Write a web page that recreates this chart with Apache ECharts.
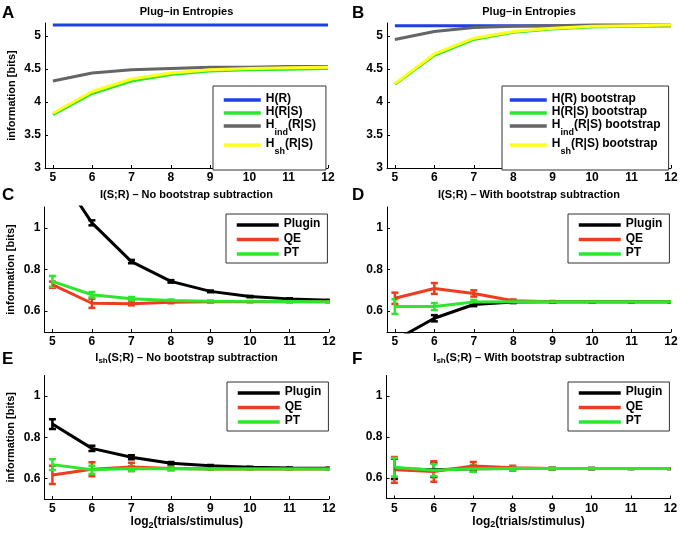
<!DOCTYPE html>
<html><head><meta charset="utf-8">
<script src="https://cdn.jsdelivr.net/npm/echarts@6/dist/echarts.min.js"></script>
<style>html,body{margin:0;padding:0;background:#fff}#c{width:685px;height:536px}</style>
</head><body><div id="c"></div><script>
const FONT = 'Liberation Sans, Arial, Helvetica, sans-serif';

// ---------- data ----------
const xVals = [5, 6, 7, 8, 9, 10, 11, 12];
const xTicks = [5, 6, 7, 8, 9, 10, 11, 12];
const yTicksEntropy = [3, 3.5, 4, 4.5, 5];
const yTicksInfo = [0.6, 0.8, 1];

// Panel A: plug-in entropies
const aHR   = [5.17, 5.17, 5.17, 5.17, 5.17, 5.17, 5.17, 5.17];
const aHRS  = [3.81, 4.13, 4.32, 4.42, 4.47, 4.49, 4.50, 4.51];
const aHind = [4.32, 4.44, 4.49, 4.51, 4.53, 4.53, 4.54, 4.54];
const aHsh  = [3.83, 4.16, 4.35, 4.44, 4.49, 4.51, 4.52, 4.53];

// Panel B: bootstrap entropies
const bHR   = [5.16, 5.16, 5.16, 5.16, 5.16, 5.16, 5.16, 5.16];
const bHRS  = [4.27, 4.71, 4.95, 5.06, 5.11, 5.14, 5.15, 5.16];
const bHind = [4.95, 5.07, 5.13, 5.15, 5.16, 5.17, 5.17, 5.17];
const bHsh  = [4.28, 4.73, 4.97, 5.07, 5.12, 5.15, 5.16, 5.17];

// Panel C: I(S;R) no bootstrap subtraction
const cPlugin    = [1.31, 1.024, 0.838, 0.743, 0.695, 0.670, 0.659, 0.652];
const cPluginErr = [0.02, 0.012, 0.008, 0.006, 0.004, 0.003, 0.003, 0.002];
const cQE        = [0.727, 0.638, 0.636, 0.643, 0.645, 0.645, 0.645, 0.645];
const cQEErr     = [0.015, 0.022, 0.008, 0.005, 0.003, 0.002, 0.002, 0.002];
const cPT        = [0.743, 0.679, 0.660, 0.651, 0.648, 0.647, 0.646, 0.645];
const cPTErr     = [0.026, 0.013, 0.008, 0.005, 0.003, 0.002, 0.002, 0.002];

// Panel D: I(S;R) with bootstrap subtraction
const dPlugin    = [0.46, 0.566, 0.632, 0.644, 0.645, 0.645, 0.645, 0.645];
const dPluginErr = [0.02, 0.015, 0.008, 0.005, 0.003, 0.002, 0.002, 0.002];
const dQE        = [0.662, 0.709, 0.685, 0.650, 0.645, 0.645, 0.645, 0.645];
const dQEErr     = [0.027, 0.026, 0.015, 0.006, 0.003, 0.002, 0.002, 0.002];
const dPT        = [0.622, 0.622, 0.644, 0.645, 0.645, 0.645, 0.645, 0.645];
const dPTErr     = [0.035, 0.017, 0.010, 0.005, 0.003, 0.002, 0.002, 0.002];

// Panel E: I_sh(S;R) no bootstrap subtraction
const ePlugin    = [0.864, 0.746, 0.703, 0.674, 0.661, 0.654, 0.651, 0.650];
const ePluginErr = [0.024, 0.013, 0.010, 0.006, 0.004, 0.003, 0.002, 0.002];
const eQE        = [0.617, 0.645, 0.656, 0.648, 0.646, 0.646, 0.646, 0.646];
const eQEErr     = [0.044, 0.034, 0.020, 0.008, 0.004, 0.003, 0.002, 0.002];
const ePT        = [0.667, 0.642, 0.648, 0.647, 0.646, 0.646, 0.646, 0.646];
const ePTErr     = [0.026, 0.020, 0.012, 0.006, 0.004, 0.003, 0.002, 0.002];

// Panel F: I_sh(S;R) with bootstrap subtraction
const fPlugin    = [0.645, 0.640, 0.645, 0.646, 0.646, 0.646, 0.646, 0.646];
const fPluginErr = [0.050, 0.035, 0.015, 0.008, 0.004, 0.003, 0.002, 0.002];
const fQE        = [0.640, 0.632, 0.658, 0.650, 0.646, 0.646, 0.646, 0.646];
const fQEErr     = [0.063, 0.050, 0.020, 0.010, 0.004, 0.003, 0.002, 0.002];
const fPT        = [0.652, 0.638, 0.645, 0.646, 0.646, 0.646, 0.646, 0.646];
const fPTErr     = [0.045, 0.030, 0.015, 0.008, 0.004, 0.003, 0.002, 0.002];

// ---------- styling ----------
const C_BLUE = '#1f3fe6', C_GREEN = '#2ee62e', C_GRAY = '#656565',
      C_YELLOW = '#ffff1e', C_RED = '#f03c1e', C_BLACK = '#000000';

const grids = [
  {left: 45,   top: 23,    width: 283,   height: 145},
  {left: 387,  top: 23,    width: 284,   height: 145},
  {left: 44.5, top: 207,   width: 284.5, height: 125},
  {left: 387,  top: 207,   width: 284,   height: 125},
  {left: 44.5, top: 375.5, width: 284.5, height: 123.5},
  {left: 386.5,top: 375.5, width: 284,   height: 123}
];

const richBase = {
  a: {fontSize: 12, fontWeight: 'bold', fontFamily: FONT, color: '#000', lineHeight: 14, verticalAlign: 'top'},
  s: {fontSize: 9, fontWeight: 'bold', fontFamily: FONT, color: '#000', lineHeight: 16, padding: [5, 0, 0, 0], verticalAlign: 'top'}
};
const richLegend = {
  a: {fontSize: 12, fontWeight: 'bold', fontFamily: FONT, color: '#000', lineHeight: 14, verticalAlign: 'top'},
  s: {fontSize: 9, fontWeight: 'bold', fontFamily: FONT, color: '#000', lineHeight: 14, padding: [9, 0, 0, 0], verticalAlign: 'top'}
};
const richTitle = {
  a: {fontSize: 11, fontWeight: 'bold', fontFamily: FONT, color: '#000', lineHeight: 13, verticalAlign: 'top'},
  s: {fontSize: 8, fontWeight: 'bold', fontFamily: FONT, color: '#000', lineHeight: 13, padding: [5, 0, 0, 0], verticalAlign: 'top'}
};

function mkX(i, withName) {
  return {
    type: 'value', gridIndex: i, min: 4.8, max: 12,
    axisLine: {onZero: false, lineStyle: {color: '#000', width: 1}},
    axisTick: {inside: true, length: 3, customValues: xTicks, lineStyle: {color: '#000'}},
    axisLabel: {customValues: xTicks, color: '#000', fontSize: 12, fontWeight: 'bold', fontFamily: FONT, margin: 4},
    splitLine: {show: false},
    name: withName ? '{a|log}{s|2}{a|(trials/stimulus)}' : '',
    nameLocation: 'middle', nameGap: 17,
    nameTextStyle: {rich: richBase}
  };
}
function mkY(i, min, max, ticks, withName) {
  return {
    type: 'value', gridIndex: i, min: min, max: max,
    axisLine: {show: true, lineStyle: {color: '#000', width: 1}},
    axisTick: {show: true, inside: true, length: 3, customValues: ticks, lineStyle: {color: '#000'}},
    axisLabel: {customValues: ticks, color: '#000', fontSize: 12, fontWeight: 'bold', fontFamily: FONT, margin: 4},
    splitLine: {show: false},
    name: withName ? 'information [bits]' : '',
    nameLocation: 'middle', nameGap: 28, nameRotate: 90,
    nameTextStyle: {color: '#000', fontSize: 11, fontWeight: 'bold', fontFamily: FONT}
  };
}

function pairs(vals) { return xVals.map((x, k) => [x, vals[k]]); }
function lineSeries(name, gi, vals, color, z) {
  return {
    type: 'line', name: name, xAxisIndex: gi, yAxisIndex: gi, data: pairs(vals),
    symbol: 'none', lineStyle: {color: color, width: 3}, itemStyle: {color: color},
    clip: true, z: z || 2, animation: false
  };
}
function errSeries(gi, vals, errs, color, z) {
  return {
    type: 'custom', xAxisIndex: gi, yAxisIndex: gi, clip: true, z: z || 2, animation: false,
    data: xVals.map((x, k) => [x, vals[k] - errs[k], vals[k] + errs[k]]),
    encode: {x: 0, y: [1, 2]},
    renderItem: function (params, api) {
      const x = api.value(0);
      const p1 = api.coord([x, api.value(1)]);
      const p2 = api.coord([x, api.value(2)]);
      const w = 3.5;
      const st = {stroke: color, lineWidth: 2.5};
      return {type: 'group', children: [
        {type: 'line', shape: {x1: p1[0], y1: p1[1], x2: p2[0], y2: p2[1]}, style: st},
        {type: 'line', shape: {x1: p1[0] - w, y1: p1[1], x2: p1[0] + w, y2: p1[1]}, style: st},
        {type: 'line', shape: {x1: p2[0] - w, y1: p2[1], x2: p2[0] + w, y2: p2[1]}, style: st}
      ]};
    }
  };
}

const legendFmt = {
  'H(R)': '{a|H(R)}',
  'H(R|S)': '{a|H(R|S)}',
  'Hind(R|S)': '{a|H}{s|ind}{a|(R|S)}',
  'Hsh(R|S)': '{a|H}{s|sh}{a|(R|S)}',
  'H(R) bootstrap': '{a|H(R) bootstrap}',
  'H(R|S) bootstrap': '{a|H(R|S) bootstrap}',
  'Hind(R|S) bootstrap': '{a|H}{s|ind}{a|(R|S) bootstrap}',
  'Hsh(R|S) bootstrap': '{a|H}{s|sh}{a|(R|S) bootstrap}',
  'Plugin': '{a|Plugin}', 'QE': '{a|QE}', 'PT': '{a|PT}'
};
function mkLegend(names, left, top, gap, pad, iw, tg) {
  return {
    data: names, left: left, top: top, orient: 'vertical',
    itemWidth: iw, itemHeight: 12, itemGap: gap, itemTextGap: tg,
    padding: pad, borderColor: '#333', borderWidth: 1, backgroundColor: '#fff',
    selectedMode: false,
    itemStyle: {opacity: 0, borderWidth: 0},
    lineStyle: {width: 3.5},
    formatter: n => legendFmt[n] || n,
    textStyle: {rich: richLegend}
  };
}

function mkTitle(text, cx, top) {
  return {text: text, left: cx, top: top, textAlign: 'center', padding: 0,
          textStyle: {rich: richTitle}};
}
function mkLetter(t, left, top) {
  return {text: t, left: left, top: top, padding: 0,
          textStyle: {fontSize: 17, fontWeight: 'bold', fontFamily: FONT, color: '#000'}};
}

const series = [
  // A
  lineSeries('H(R)', 0, aHR, C_BLUE),
  lineSeries('H(R|S)', 0, aHRS, C_GREEN),
  lineSeries('Hind(R|S)', 0, aHind, C_GRAY),
  lineSeries('Hsh(R|S)', 0, aHsh, C_YELLOW),
  // B
  lineSeries('H(R) bootstrap', 1, bHR, C_BLUE),
  lineSeries('H(R|S) bootstrap', 1, bHRS, C_GREEN),
  lineSeries('Hind(R|S) bootstrap', 1, bHind, C_GRAY),
  lineSeries('Hsh(R|S) bootstrap', 1, bHsh, C_YELLOW)
];
const infoPanels = [
  [2, cPlugin, cPluginErr, cQE, cQEErr, cPT, cPTErr],
  [3, dPlugin, dPluginErr, dQE, dQEErr, dPT, dPTErr],
  [4, ePlugin, ePluginErr, eQE, eQEErr, ePT, ePTErr],
  [5, fPlugin, fPluginErr, fQE, fQEErr, fPT, fPTErr]
];
infoPanels.forEach(p => {
  const gi = p[0];
  series.push(lineSeries('Plugin', gi, p[1], C_BLACK), errSeries(gi, p[1], p[2], C_BLACK));
  series.push(lineSeries('QE', gi, p[3], C_RED), errSeries(gi, p[3], p[4], C_RED));
  series.push(lineSeries('PT', gi, p[5], C_GREEN), errSeries(gi, p[5], p[6], C_GREEN));
});

const padInfo = [4, 7, 4, 9];
const option = {
  animation: false,
  backgroundColor: '#fff',
  grid: grids,
  xAxis: [mkX(0), mkX(1), mkX(2), mkX(3), mkX(4, true), mkX(5, true)],
  yAxis: [
    mkY(0, 3, 5.2, yTicksEntropy, true),
    mkY(1, 3, 5.2, yTicksEntropy, false),
    mkY(2, 0.5, 1.1, yTicksInfo, true),
    mkY(3, 0.5, 1.1, yTicksInfo, false),
    mkY(4, 0.5, 1.1, yTicksInfo, true),
    mkY(5, 0.5, 1.1, yTicksInfo, false)
  ],
  title: [
    mkTitle('{a|Plug\u2013in Entropies}', 186.5, 6),
    mkTitle('{a|Plug\u2013in Entropies}', 529, 6),
    mkTitle('{a|I(S;R) \u2013 No bootstrap subtraction}', 186.5, 189),
    mkTitle('{a|I(S;R) \u2013 With bootstrap subtraction}', 529, 189),
    mkTitle('{a|I}{s|sh}{a|(S;R) \u2013 No bootstrap subtraction}', 186.5, 352),
    mkTitle('{a|I}{s|sh}{a|(S;R) \u2013 With bootstrap subtraction}', 529, 352),
    mkLetter('A', 2, 5), mkLetter('B', 352, 5),
    mkLetter('C', 2, 187), mkLetter('D', 352, 187),
    mkLetter('E', 2, 351), mkLetter('F', 352, 351)
  ],
  legend: [
    mkLegend(['H(R)', 'H(R|S)', 'Hind(R|S)', 'Hsh(R|S)'], 213, 86, 1, [7, 10, 14, 9], 37, 4),
    mkLegend(['H(R) bootstrap', 'H(R|S) bootstrap', 'Hind(R|S) bootstrap', 'Hsh(R|S) bootstrap'], 502, 86, 1, [7, 8, 14, 6], 37, 4),
    mkLegend(['Plugin', 'QE', 'PT'], 226, 214, 2.5, padInfo, 42, 5),
    mkLegend(['Plugin', 'QE', 'PT'], 568, 214, 2.5, padInfo, 42, 5),
    mkLegend(['Plugin', 'QE', 'PT'], 227, 382, 2.5, padInfo, 42, 5),
    mkLegend(['Plugin', 'QE', 'PT'], 568, 382, 2.5, padInfo, 42, 5)
  ],
  series: series
};

const chart = echarts.init(document.getElementById('c'), null, {renderer: 'canvas'});
chart.setOption(option);
</script></body></html>
